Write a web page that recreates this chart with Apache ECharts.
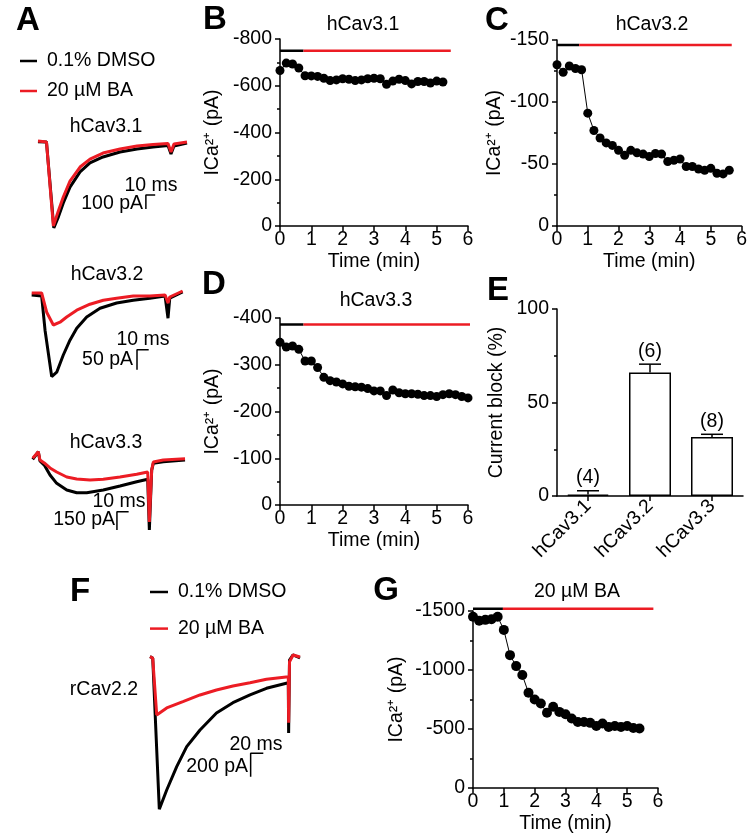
<!DOCTYPE html>
<html>
<head>
<meta charset="utf-8">
<script src="https://cdn.jsdelivr.net/npm/echarts@6/dist/echarts.min.js"></script>
<style>
  html, body { margin: 0; padding: 0; background: #fff; }
  #chart { width: 750px; height: 838px; }
</style>
</head>
<body>
<div id="chart"></div>
<script>
  // ---- current traces, [ms, pA] ----
  const a1Dmso = [[0,0],[9.1,-2],[17,-616],[21.5,-545],[27.2,-438],[34.4,-324],[45.2,-216],[55.9,-152],[69.9,-109],[88.2,-74],[106.5,-52],[123.7,-38],[139.8,-27],[143,-88],[146.2,-31],[160.2,-9]]
  const a1Ba = [[0,5],[9.1,-2],[16.5,-602],[21.5,-502],[27.2,-395],[34.4,-281],[45.2,-181],[55.9,-124],[69.9,-81],[88.2,-52],[106.5,-31],[123.7,-20],[139.8,-13],[143,-74],[146.2,-16],[160.2,-2]]
  const a2Dmso = [[0,0],[8.5,-2.5],[11.4,-88],[17.1,-204],[21.4,-193],[27,-150],[32.7,-113],[38.5,-83],[47,-55],[58.4,-33],[72.6,-20],[86.8,-13],[101,-8],[114,-2.5],[116.5,-58],[118,-8],[129,7.5]]
  const a2Ba = [[0,5],[8.5,5],[12.8,-43],[18.5,-75],[24.2,-68],[29.9,-55],[38.5,-38],[49.8,-23],[61.2,-13],[72.6,-8],[86.8,-2.5],[101,-2.5],[114,0],[116.5,-20],[118,-5],[129,10]]
  const a3Dmso = [[0,0],[4.8,62],[6.2,-14],[9.9,-47],[14.8,-129],[20.5,-197],[29.1,-252],[37.6,-274],[46.2,-274],[60.3,-252],[74.6,-219],[88.9,-184],[98.3,-164],[99.7,-580],[101.7,-88],[103.1,-33],[111.6,-20],[130.2,-6]]
  const a3Ba = [[0,8],[4.8,62],[6.2,-6],[9.9,-30],[14.8,-71],[20.5,-104],[29.1,-145],[37.6,-161],[49,-170],[60.3,-164],[74.6,-145],[88.9,-123],[98.3,-104],[99.7,-514],[101.7,-88],[103.1,-22],[111.6,-6],[130.2,5]]
  const fDmso = [[0,11],[4.3,0],[14.7,-1293],[26.4,-1128],[42.2,-929],[58,-758],[79,-615],[105,-470],[131,-382],[158,-316],[184,-259],[218.5,-211],[219,-641],[220.4,-17],[226,26],[237,0]]
  const fBa = [[0,11],[4.3,0],[10.6,-487],[26.4,-427],[52,-373],[79,-316],[105,-274],[131,-239],[158,-211],[184,-182],[218.5,-160],[219,-553],[220.4,-32],[226,26],[237,9]]

  // ---- time courses ----
  const bTime = [0,0.2,0.4,0.6,0.8,1,1.2,1.4,1.6,1.8,2,2.2,2.4,2.6,2.8,3,3.2,3.4,3.6,3.8,4,4.2,4.4,4.6,4.8,5,5.2]
  const bCurrent = [-665,-697,-693,-676,-643,-642,-640,-632,-622,-625,-630,-628,-622,-625,-630,-632,-630,-606,-620,-628,-622,-608,-618,-618,-612,-620,-616]
  const cTime = [0,0.2,0.4,0.6,0.8,1,1.2,1.4,1.6,1.8,2,2.2,2.4,2.6,2.8,3,3.2,3.4,3.6,3.8,4,4.2,4.4,4.6,4.8,5,5.2,5.4,5.6]
  const cCurrent = [-130,-124,-129,-127,-126,-91,-77,-71,-67,-65,-61,-57,-61,-59,-58,-56,-58.5,-58,-52,-53,-54,-48,-48,-46,-45,-46.5,-42.5,-42,-45]
  const dTime = [0,0.2,0.4,0.6,0.8,1,1.2,1.4,1.6,1.8,2,2.2,2.4,2.6,2.8,3,3.2,3.4,3.6,3.8,4,4.2,4.4,4.6,4.8,5,5.2,5.4,5.6,5.8,6]
  const dCurrent = [-348,-338,-340,-333,-308,-308,-294,-273,-266,-263,-259,-254,-253,-252,-249,-244,-244,-234,-246,-240,-238,-238,-237,-234,-234,-232,-236,-238,-236,-232,-229]
  const gTime = [0,0.2,0.4,0.6,0.8,1,1.2,1.4,1.6,1.8,2,2.2,2.4,2.6,2.8,3,3.2,3.4,3.6,3.8,4,4.2,4.4,4.6,4.8,5,5.2,5.4]
  const gCurrent = [-1452,-1418,-1425,-1430,-1452,-1340,-1126,-1033,-957,-807,-750,-716,-637,-688,-645,-625,-589,-560,-560,-552,-526,-546,-518,-526,-518,-526,-509,-504]

  // drug application bars: [level, start, switch, end] (min)
  const bApply = [-750, 0, 0.75, 5.45]
  const cApply = [-146, 0, 0.72, 5.68]
  const dApply = [-386, 0, 0.75, 6.1]
  const gApply = [-1520, 0, 0.97, 5.85]

  // ---- panel E ----
  const channels = ['hCav3.1', 'hCav3.2', 'hCav3.3']
  const blockMean = [0.8, 66, 31.5]
  const blockSem = [2, 4.5, 1.5]
  const blockN = [4, 6, 8]

  const FONT = '"Liberation Sans", Arial, sans-serif'
  const FS = 19.5
  const RED = '#ec1c24'
  const black = { color: '#000', width: 1.5 }
  const textStyle = { color: '#000', fontSize: FS, fontFamily: FONT }

  // trace panels: origin pixel, px per ms, px per pA, ranges
  function traceGrid(x0, y0, pxMs, pxPA, msMax, pAMin, pAMax) {
    return { left: x0, top: y0 - pAMax * pxPA, width: msMax * pxMs, height: (pAMax - pAMin) * pxPA }
  }
  const traces = [
    { g: traceGrid(38, 141.7, 0.93, 0.14, 170, -650, 60), ms: 170, lo: -650, hi: 60, dmso: a1Dmso, ba: a1Ba, bar: [116, -380, 10, 100] },
    { g: traceGrid(31.7, 295, 1.17, 0.4, 135, -220, 30), ms: 135, lo: -220, hi: 30, dmso: a2Dmso, ba: a2Ba, bar: [90, -137, 10, 50] },
    { g: traceGrid(32.7, 459.3, 1.17, 0.122, 135, -620, 80), ms: 135, lo: -620, hi: 80, dmso: a3Dmso, ba: a3Ba, bar: [72, -430, 10, 150] },
    { g: traceGrid(150, 658, 0.633, 0.117, 240, -1350, 60), ms: 240, lo: -1350, hi: 60, dmso: fDmso, ba: fBa, bar: [159, -815, 20, 200] }
  ]

  const grid = [], xAxis = [], yAxis = [], series = []

  traces.forEach(function (t, i) {
    grid.push(t.g)
    xAxis.push({ gridIndex: i, type: 'value', min: 0, max: t.ms, show: false })
    yAxis.push({ gridIndex: i, type: 'value', min: t.lo, max: t.hi, show: false })
    series.push({ name: '0.1% DMSO', type: 'line', xAxisIndex: i, yAxisIndex: i, data: t.dmso, symbol: 'none',
      lineStyle: { color: '#000', width: 3 }, itemStyle: { color: '#000' }, silent: true })
    series.push({ name: '20 µM BA', type: 'line', xAxisIndex: i, yAxisIndex: i, data: t.ba, symbol: 'none',
      lineStyle: { color: RED, width: 3 }, itemStyle: { color: RED }, silent: true })
    const b = t.bar
    series.push({ name: 'scale', type: 'line', xAxisIndex: i, yAxisIndex: i, symbol: 'none', silent: true,
      data: [[b[0] + b[2], b[1]], [b[0], b[1]], [b[0], b[1] - b[3]]], lineStyle: { color: '#000', width: 1.5 } })
  })

  function plain(v) { return String(v) }

  function tcGrid(idx, pos, yMin, yInterval, yName, yGap, xName, xs, ys, apply, dot) {
    grid.push(pos)
    const x = { gridIndex: idx, type: 'value', splitLine: { show: false },
      axisLine: { show: true, onZero: false, lineStyle: black },
      axisTick: { show: true, length: 5, lineStyle: black },
      axisLabel: { margin: 4, ...textStyle } }
    if (xName !== null) {
      Object.assign(x, { min: 0, max: 6, interval: 1 })
      if (xName) Object.assign(x, { name: xName, nameLocation: 'middle', nameGap: 26, nameTextStyle: textStyle })
    }
    xAxis.push(x)
    yAxis.push({ gridIndex: idx, type: 'value', min: yMin, max: yMin < 0 ? 0 : 100, interval: yInterval,
      inverse: yMin < 0, splitLine: { show: false },
      name: yName, nameLocation: 'middle', nameGap: yGap, nameTextStyle: textStyle,
      axisLine: { show: true, lineStyle: black },
      axisTick: { show: true, length: 5, lineStyle: black },
      minorTick: { show: true, splitNumber: 2, length: 3, lineStyle: black },
      axisLabel: { margin: 8, formatter: plain, ...textStyle } })
    if (xs) {
      series.push({ name: 'pre', type: 'line', xAxisIndex: idx, yAxisIndex: idx, symbol: 'none', clip: false, silent: true,
        data: [[apply[1], apply[0]], [apply[2], apply[0]]], lineStyle: { color: '#000', width: 2.5 } })
      series.push({ name: 'BA on', type: 'line', xAxisIndex: idx, yAxisIndex: idx, symbol: 'none', clip: false, silent: true,
        data: [[apply[2], apply[0]], [apply[3], apply[0]]], lineStyle: { color: RED, width: 2.5 } })
      series.push({ name: 'ICa', type: 'line', xAxisIndex: idx, yAxisIndex: idx, silent: true,
        data: xs.map(function (v, k) { return [v, ys[k]] }),
        symbol: 'circle', symbolSize: dot, itemStyle: { color: '#000' }, lineStyle: { color: '#000', width: 1 } })
    }
  }

  const ICA = 'ICa²⁺ (pA)'
  tcGrid(4, { left: 280, top: 39, width: 188, height: 187 }, -800, 200, ICA, 57, 'Time (min)', bTime, bCurrent, bApply, 9)
  tcGrid(5, { left: 557, top: 40, width: 188, height: 186 }, -150, 50, ICA, 52, 'Time (min)', cTime, cCurrent, cApply, 9)
  tcGrid(6, { left: 280, top: 318, width: 188, height: 187 }, -400, 100, ICA, 57, 'Time (min)', dTime, dCurrent, dApply, 9)
  tcGrid(7, { left: 557, top: 309, width: 186, height: 187 }, 0, 50, 'Current block (%)', 50, null, null, null, null, 0)
  tcGrid(8, { left: 473, top: 611, width: 185, height: 177 }, -1500, 500, ICA, 66, 'Time (min)', gTime, gCurrent, gApply, 10)

  // panel E x axis is categorical
  Object.assign(xAxis[7], { type: 'category', data: channels,
    axisTick: { show: true, length: 5, alignWithLabel: true, lineStyle: black },
    axisLabel: { margin: 7, rotate: 45, ...textStyle } })

  series.push({ name: 'block', type: 'bar', xAxisIndex: 7, yAxisIndex: 7, data: blockMean, barWidth: 42, silent: true,
    itemStyle: { color: '#fff', borderColor: '#000', borderWidth: 1.5 } })
  series.push({ name: 'sem', type: 'custom', xAxisIndex: 7, yAxisIndex: 7, silent: true, z: 5,
    data: blockMean.map(function (m, i) { return [i, m, blockSem[i]] }),
    renderItem: function (params, api) {
      const i = api.value(0), m = api.value(1), e = api.value(2)
      const p0 = api.coord([i, m]), p1 = api.coord([i, m + e])
      return { type: 'group', children: [
        { type: 'line', shape: { x1: p0[0], y1: p0[1], x2: p1[0], y2: p1[1] }, style: { stroke: '#000', lineWidth: 1.5 } },
        { type: 'line', shape: { x1: p1[0] - 11, y1: p1[1], x2: p1[0] + 11, y2: p1[1] }, style: { stroke: '#000', lineWidth: 1.5 } },
        { type: 'text', x: p1[0], y: p1[1] - 3, style: { text: '(' + blockN[params.dataIndex] + ')', font: FS + 'px ' + FONT,
          fill: '#000', align: 'center', verticalAlign: 'bottom', textAlign: 'center', textVerticalAlign: 'bottom' } }
      ] }
    } })

  function txt(x, y, s, align, size, bold) {
    return { type: 'text', x: x, y: y, silent: true, style: { text: s, fill: '#000',
      font: (bold ? 'bold ' : '') + (size || FS) + 'px ' + FONT,
      align: align || 'center', verticalAlign: 'middle', textAlign: align || 'center', textVerticalAlign: 'middle' } }
  }

  const graphic = [
    txt(28, 21, 'A', 'center', 33, true), txt(215, 20, 'B', 'center', 33, true), txt(497, 21, 'C', 'center', 33, true),
    txt(214, 285, 'D', 'center', 33, true), txt(498, 291, 'E', 'center', 33, true), txt(80, 592, 'F', 'center', 33, true),
    txt(386, 591, 'G', 'center', 33, true),
    txt(363, 25, 'hCav3.1'), txt(652, 25, 'hCav3.2'), txt(376, 301, 'hCav3.3'), txt(577, 592, '20 µM BA'),
    txt(106, 127, 'hCav3.1'), txt(151, 186, '10 ms'), txt(143, 204, '100 pA', 'right'),
    txt(107, 275, 'hCav3.2'), txt(143, 340, '10 ms'), txt(133, 360, '50 pA', 'right'),
    txt(106, 443, 'hCav3.3'), txt(119, 502, '10 ms'), txt(115, 520, '150 pA', 'right'),
    txt(104, 690, 'rCav2.2'), txt(256, 745, '20 ms'), txt(248, 767, '200 pA', 'right')
  ]

  const legendBase = { data: ['0.1% DMSO', '20 µM BA'], orient: 'vertical', icon: 'rect', itemHeight: 2.5,
    selectedMode: false, padding: 0, textStyle: { ...textStyle, lineHeight: 20, padding: [0, 0, 0, 5] } }

  const chart = echarts.init(document.getElementById('chart'), null, { renderer: 'canvas' })
  chart.setOption({
    animation: false,
    backgroundColor: '#fff',
    textStyle: { fontFamily: FONT },
    legend: [
      { ...legendBase, left: 20, top: 51, itemWidth: 17, itemGap: 10 },
      { ...legendBase, left: 150, top: 582, itemWidth: 18, itemGap: 16.6 }
    ],
    grid: grid,
    xAxis: xAxis,
    yAxis: yAxis,
    series: series,
    graphic: graphic
  })
</script>
</body>
</html>
